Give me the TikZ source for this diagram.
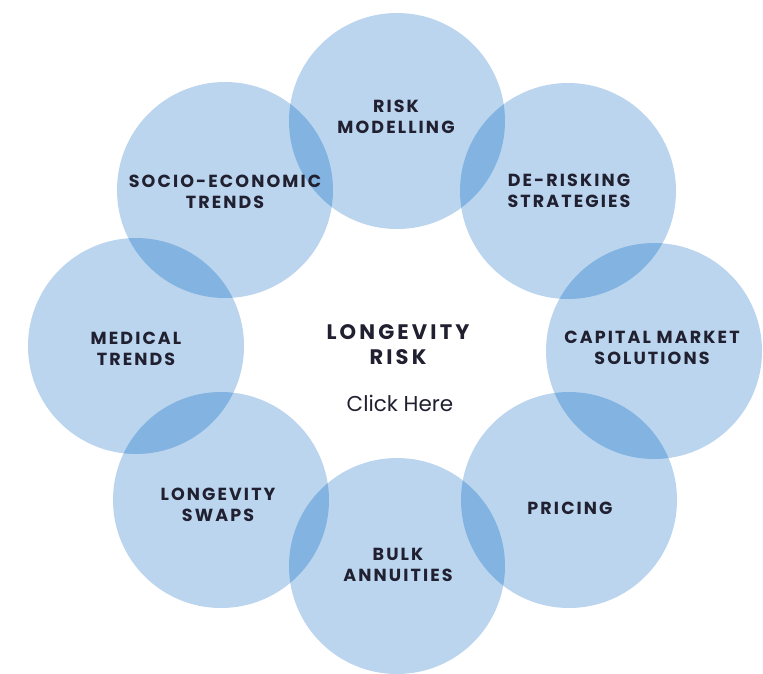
\documentclass[tikz,border=0pt]{standalone}
\usepackage{fontspec}
\setmainfont{Poppins}
\newfontfamily\capfont[LetterSpace=12]{Poppins}
\newfontfamily\bigcapfont[LetterSpace=15]{Poppins}
\definecolor{lightb}{RGB}{187,213,239}
\definecolor{darkb}{RGB}{131,180,225}
\definecolor{ink}{RGB}{32,32,48}
\tikzset{
  bubble/.style={circle,minimum size=216pt,inner sep=0pt,fill=lightb},
  lbl/.style={align=center,text=ink,inner sep=0pt,font=\capfont\bfseries\fontsize{17.5}{21.5}\selectfont},
  clickt/.style={text=ink,inner sep=0pt,font=\fontsize{21.5}{24}\selectfont}
}
\newcommand{\lens}[2]{\begin{scope}\clip (#1.center) circle[radius=108pt];\fill[darkb] (#2.center) circle[radius=108pt];\end{scope}}
\begin{document}
\begin{tikzpicture}[x=1pt,y=-1pt]
\useasboundingbox (0,0) rectangle (763,673);
\fill[white] (0,0) rectangle (763,673);
\node[bubble] (rm) at (397,121) {};
\node[bubble] (de) at (568,191) {};
\node[bubble] (cm) at (654,351) {};
\node[bubble] (pr) at (569,500) {};
\node[bubble] (ba) at (397,566) {};
\node[bubble] (ls) at (221,500) {};
\node[bubble] (md) at (136,346) {};
\node[bubble] (se) at (225,190) {};
\lens{rm}{de}
\lens{de}{cm}
\lens{cm}{pr}
\lens{pr}{ba}
\lens{ba}{ls}
\lens{ls}{md}
\lens{md}{se}
\lens{se}{rm}
\node[lbl] (trm) at (396,117) {RISK\\MODELLING};
\node[lbl] (tde) at (569,191) {DE-RISKING\\STRATEGIES};
\node[lbl] (tcm) at (652,348) {CAPITAL MARKET\\SOLUTIONS};
\node[lbl] (tpr) at (570,508) {PRICING};
\node[lbl] (tba) at (398,565) {BULK\\ANNUITIES};
\node[lbl] (tls) at (218,505) {LONGEVITY\\SWAPS};
\node[lbl] (tmd) at (136,349) {MEDICAL\\TRENDS};
\node[lbl] (tse) at (225,192) {SOCIO-ECONOMIC\\TRENDS};
\node[lbl,font=\bigcapfont\bfseries\fontsize{21}{25}\selectfont] (tlr) at (398,345) {LONGEVITY\\RISK};
\node[clickt] (tch) at (400,403) {Click Here};
\end{tikzpicture}
\end{document}
